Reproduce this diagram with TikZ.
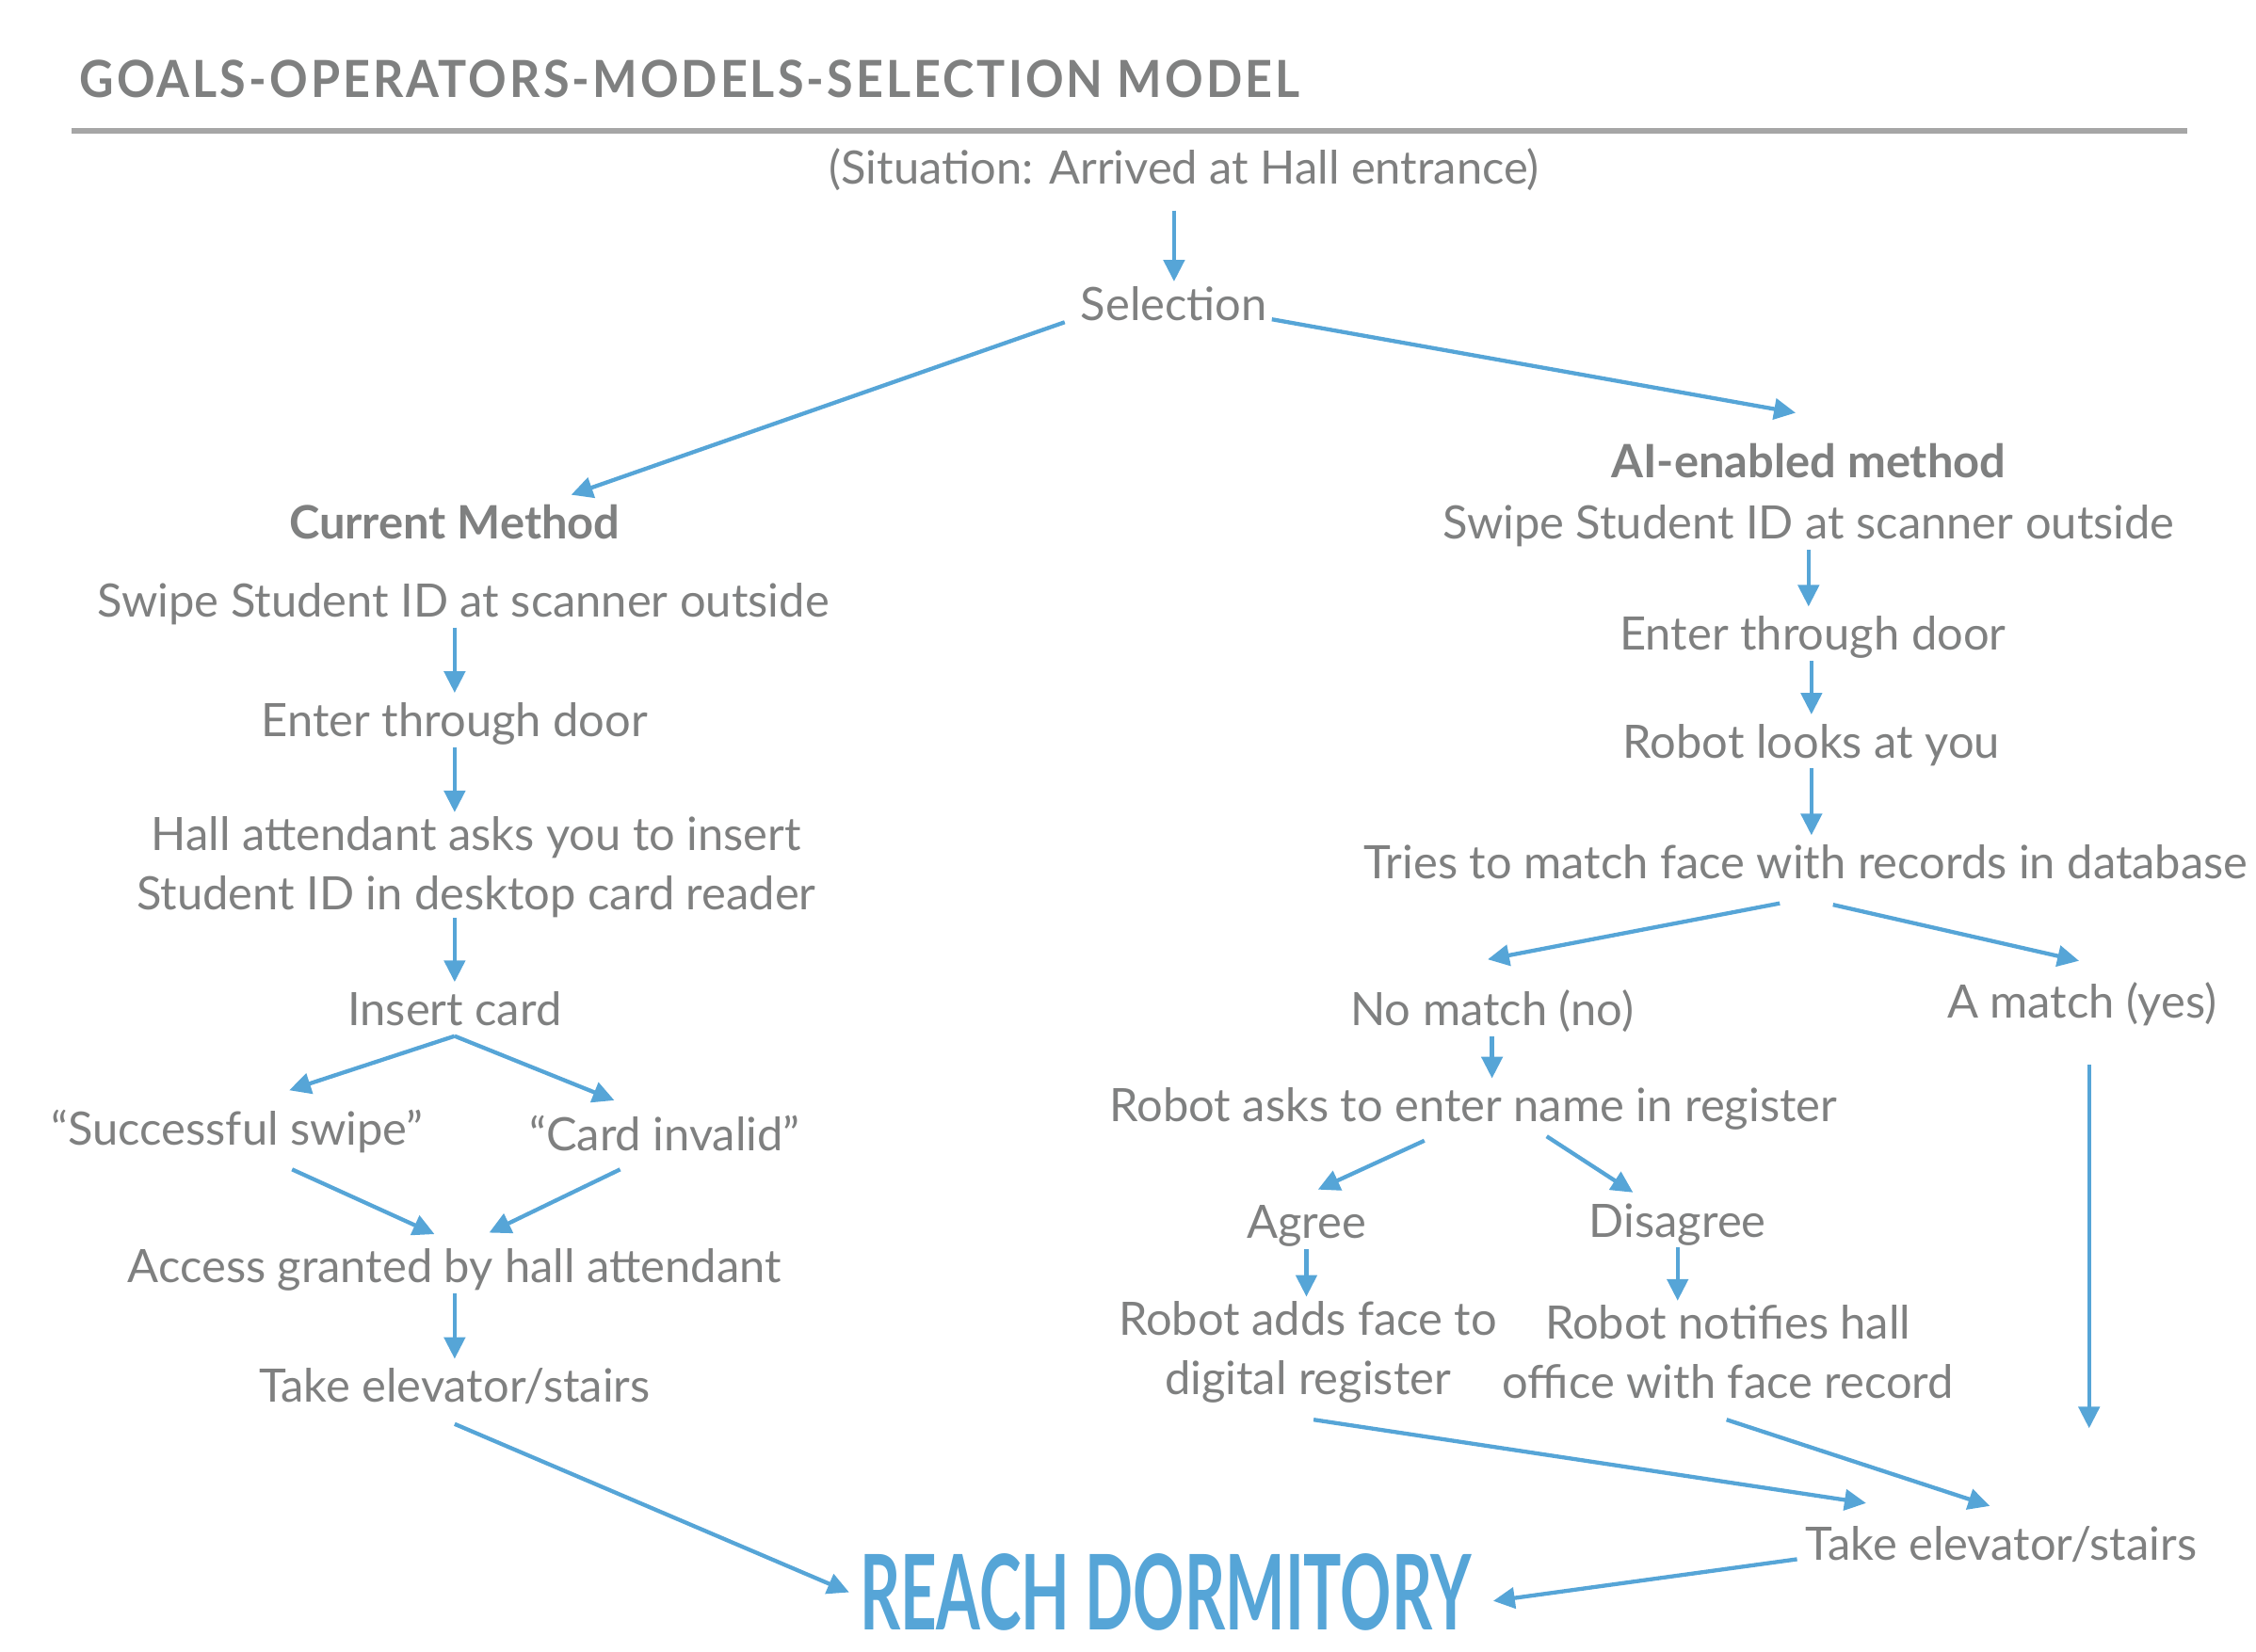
\documentclass[tikz,border=0pt]{standalone}
\usepackage{fontspec}
\setmainfont{Lato}
\usepackage{graphicx}
\usetikzlibrary{arrows.meta}
\definecolor{txtgray}{HTML}{7F8080}
\definecolor{arrblue}{HTML}{56A5D7}
\definecolor{rulegray}{HTML}{A6A6A6}
\tikzset{
  lbl/.style={text=txtgray, inner sep=0pt, font=\fontsize{18.2}{23.3}\selectfont, text height=15.3pt, text depth=4pt},
  lbltwo/.style={text=txtgray, inner sep=0pt, font=\fontsize{18.2}{23.3}\selectfont, align=center},
  head/.style={lbl, font=\fontsize{18.2}{23.3}\selectfont\bfseries},
  arr/.style={draw=arrblue, line width=1.6pt, -{Triangle[length=3mm,width=2.9mm]}},
  varr/.style={arr, shorten >=0.6mm},
}
\begin{document}
\begin{tikzpicture}[x=0.02cm,y=-0.02cm]
\useasboundingbox (0,0) rectangle (1568,1148);
% title and rule
\node[anchor=west, inner sep=0pt, text=txtgray] (title) at (55,55) {\resizebox{16.96cm}{0.52cm}{\bfseries\addfontfeature{LetterSpace=6}GOALS-OPERATORS-MODELS-SELECTION\ MODEL}};
\draw[rulegray, line width=2pt] (50,91) -- (1520,91);
% top
\node[lbl] (sit) at (823,118) {(Situation: Arrived at Hall entrance)};
\node[lbl] (sel) at (816,213) {Selection};
% current method
\node[head] (cur) at (316,365) {Current Method};
\node[lbl] (swL) at (322,419) {Swipe Student ID at scanner outside};
\node[lbl] (entL) at (316,502) {Enter through door};
\node[lbltwo] (hall) at (331,603) {Hall attendant asks you to insert\\Student ID in desktop card reader};
\node[lbl] (ins) at (316,703) {Insert card};
\node[lbl] (succ) at (165,786) {“Successful swipe”};
\node[lbl] (inv) at (462,790) {“Card invalid”};
\node[lbl] (acc) at (316,882) {Access granted by hall attendant};
\node[lbl] (takeL) at (316,965) {Take elevator/stairs};
% ai-enabled method
\node[head] (ai) at (1257,322) {AI-enabled method};
\node[lbl] (swR) at (1257,365) {Swipe Student ID at scanner outside};
\node[lbl] (entR) at (1260,442) {Enter through door};
\node[lbl] (look) at (1259,517) {Robot looks at you};
\node[lbl] (tries) at (1255,601) {Tries to match face with records in database};
\node[lbl] (nom) at (1037,703) {No match (no)};
\node[lbl] (yes) at (1447,698) {A match (yes)};
\node[lbl] (ask) at (1024,770) {Robot asks to enter name in register};
\node[lbl] (agr) at (908,851) {Agree};
\node[lbl] (dis) at (1166,850) {Disagree};
\node[lbltwo] (adds) at (909,940) {Robot adds face to\\digital register};
\node[lbltwo] (notif) at (1201,940) {Robot notifies hall\\office with face record};
\node[lbl] (takeR) at (1391,1075) {Take elevator/stairs};
% goal
\node[inner sep=0pt, text=arrblue] (reach) at (810,1107) {\resizebox{8.5cm}{1.06cm}{\bfseries REACH DORMITORY}};
% arrows
\draw[arr, shorten <=2.2mm] (sit.south -| sel) -- (sel.north);
\draw[arr] ([shift={(-76,11)}]sel.center) -- ([shift={(81,-21)}]cur.center);
\draw[arr] ([shift={(68,9)}]sel.center) -- ([shift={(-9,-35)}]ai.center);
\draw[varr] (swL.south -| entL) -- (entL.north);
\draw[varr] (entL.south) -- (entL.south |- hall.north);
\draw[varr] (ins.north |- hall.south) -- (ins.north);
\draw[arr] (ins.south) -- ([shift={(36,-28)}]succ.center);
\draw[arr] (ins.south) -- ([shift={(-35,-25)}]inv.center);
\draw[arr] ([shift={(38,27)}]succ.center) -- ([shift={(-14,-24)}]acc.center);
\draw[arr] ([shift={(-31,23)}]inv.center) -- ([shift={(24,-25)}]acc.center);
\draw[varr] (acc.south) -- (takeL.north);
\draw[arr] ([shift={(0,25)}]takeL.center) -- ([xshift=-1.4mm]reach.west);
\draw[varr] (swR.south) -- (swR.south |- entR.north);
\draw[varr] (look.north |- entR.south) -- (look.north);
\draw[varr] (look.south) -- (look.south |- tries.north);
\draw[arr] ([shift={(-18,27)}]tries.center) -- ([shift={(-3,-36)}]nom.center);
\draw[arr] ([shift={(19,28)}]tries.center) -- ([shift={(-2,-30)}]yes.center);
\draw[varr] (nom.south) -- (nom.south |- ask.north);
\draw[arr] ([shift={(-34,23)}]ask.center) -- ([shift={(8,-24)}]agr.center);
\draw[arr] ([shift={(51,20)}]ask.center) -- ([shift={(-31,-21)}]dis.center);
\draw[varr] (agr.south) -- (agr.south |- adds.north);
\draw[varr] (dis.south) -- (dis.south |- notif.north);
\draw[arr] ([shift={(5,42)}]yes.center) -- ([shift={(61,-82)}]takeR.center);
\draw[arr] ([shift={(4,47)}]adds.center) -- ([shift={(-94,-30)}]takeR.center);
\draw[arr] ([shift={(-1,47)}]notif.center) -- ([shift={(-8,-28)}]takeR.center);
\draw[arr] ([shift={(-142,9)}]takeR.center) -- ([shift={(15,6)}]reach.east);
\end{tikzpicture}
\end{document}
